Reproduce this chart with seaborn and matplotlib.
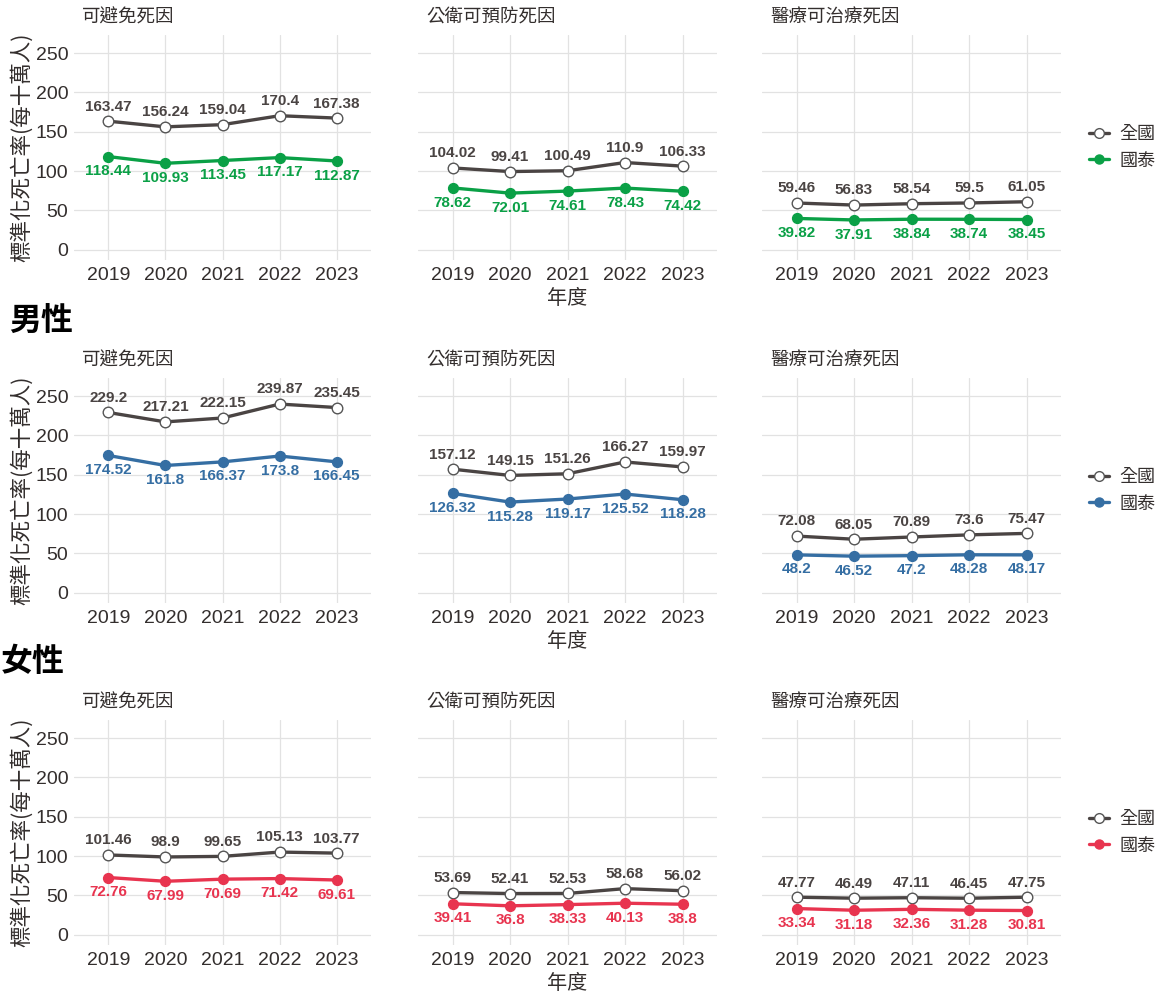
import matplotlib
matplotlib.use("Agg")
import matplotlib.pyplot as plt
import seaborn as sns
import pandas as pd
from matplotlib.lines import Line2D

# ---------------- data ----------------
years = ["2019", "2020", "2021", "2022", "2023"]
causes = ["可避免死因", "公衛可預防死因", "醫療可治療死因"]
row_titles = ["", "男性", "女性"]
series_names = ["全國", "國泰"]

# 全體
all_nat_avoid = [163.47, 156.24, 159.04, 170.4, 167.38]
all_ct_avoid = [118.44, 109.93, 113.45, 117.17, 112.87]
all_nat_prev = [104.02, 99.41, 100.49, 110.9, 106.33]
all_ct_prev = [78.62, 72.01, 74.61, 78.43, 74.42]
all_nat_treat = [59.46, 56.83, 58.54, 59.5, 61.05]
all_ct_treat = [39.82, 37.91, 38.84, 38.74, 38.45]
# 男性
male_nat_avoid = [229.2, 217.21, 222.15, 239.87, 235.45]
male_ct_avoid = [174.52, 161.8, 166.37, 173.8, 166.45]
male_nat_prev = [157.12, 149.15, 151.26, 166.27, 159.97]
male_ct_prev = [126.32, 115.28, 119.17, 125.52, 118.28]
male_nat_treat = [72.08, 68.05, 70.89, 73.6, 75.47]
male_ct_treat = [48.2, 46.52, 47.2, 48.28, 48.17]
# 女性
fem_nat_avoid = [101.46, 98.9, 99.65, 105.13, 103.77]
fem_ct_avoid = [72.76, 67.99, 70.69, 71.42, 69.61]
fem_nat_prev = [53.69, 52.41, 52.53, 58.68, 56.02]
fem_ct_prev = [39.41, 36.8, 38.33, 40.13, 38.8]
fem_nat_treat = [47.77, 46.49, 47.11, 46.45, 47.75]
fem_ct_treat = [33.34, 31.18, 32.36, 31.28, 30.81]

y_ticks = [0, 50, 100, 150, 200, 250]

rows = [
    [(all_nat_avoid, all_ct_avoid), (all_nat_prev, all_ct_prev), (all_nat_treat, all_ct_treat)],
    [(male_nat_avoid, male_ct_avoid), (male_nat_prev, male_ct_prev), (male_nat_treat, male_ct_treat)],
    [(fem_nat_avoid, fem_ct_avoid), (fem_nat_prev, fem_ct_prev), (fem_nat_treat, fem_ct_treat)],
]

# ---------------- style ----------------
sns.set_theme(style="white")
plt.rcParams['font.family'] = ['Liberation Sans', 'Noto Sans CJK TC', 'DejaVu Sans']
CJK = ['Noto Sans CJK TC', 'DejaVu Sans']

NAT_COLOR = "#4a4443"
ROW_COLORS = ["#0aa046", "#356ea3", "#e8344f"]
TXT = "#332e2d"
GRID = "#e2e2e2"

W, H = 1167, 992
fig = plt.figure(figsize=(W / 100, H / 100), dpi=100)


def rect(x0, x1, y0, y1):
    return [x0 / W, 1 - y1 / H, (x1 - x0) / W, (y1 - y0) / H]


row_y = [(35, 260), (378, 603), (720, 945)]
col_x = [(74, 371), (418, 717), (762, 1061)]

for r, (ry0, ry1) in enumerate(row_y):
    ct_color = ROW_COLORS[r]
    for c, (cx0, cx1) in enumerate(col_x):
        ax = fig.add_axes(rect(cx0, cx1, ry0, ry1))
        nat, ct = rows[r][c]
        df = pd.DataFrame({
            "idx": list(range(len(years))) * 2,
            "value": nat + ct,
            "series": [series_names[0]] * len(years) + [series_names[1]] * len(years),
        })
        sns.lineplot(data=df[df.series == "全國"], x="idx", y="value", ax=ax,
                     color=NAT_COLOR, lw=2.4, zorder=3, legend=False)
        sns.lineplot(data=df[df.series == "國泰"], x="idx", y="value", ax=ax,
                     color=ct_color, lw=2.4, zorder=3, legend=False)
        sns.scatterplot(data=df[df.series == "全國"], x="idx", y="value", ax=ax,
                        color="white", edgecolor="#555555", linewidth=1.0, s=58,
                        zorder=4, legend=False)
        sns.scatterplot(data=df[df.series == "國泰"], x="idx", y="value", ax=ax,
                        color=ct_color, edgecolor=ct_color, linewidth=1.0, s=50,
                        zorder=4, legend=False)
        for i, v in enumerate(nat):
            ax.annotate(f"{v:g}", (i, v), xytext=(0, 10.5), textcoords="offset points",
                        ha="center", va="center", fontsize=11, fontweight="bold",
                        color=NAT_COLOR, zorder=5)
        for i, v in enumerate(ct):
            ax.annotate(f"{v:g}", (i, v), xytext=(0, -10.5), textcoords="offset points",
                        ha="center", va="center", fontsize=11, fontweight="bold",
                        color=ct_color, zorder=5)

        ax.set_xlim(-0.6, 4.6)
        ax.set_ylim(-13, 273)
        ax.set_xticks(range(len(years)))
        ax.set_xticklabels(years)
        ax.set_yticks(y_ticks)
        if c == 0:
            ax.set_yticklabels([str(t) for t in y_ticks])
        else:
            ax.set_yticklabels([])
        ax.tick_params(axis="both", length=0, labelsize=14, colors=TXT)
        ax.tick_params(axis="x", pad=5)
        ax.tick_params(axis="y", pad=4)
        ax.grid(True, color=GRID, lw=0.9, zorder=0)
        ax.set_axisbelow(True)
        for s in ax.spines.values():
            s.set_visible(False)
        ax.set_xlabel("")
        ax.set_ylabel("")
        ax.set_facecolor("white")

        # panel title
        ax.annotate(causes[c], (0, 1), xycoords="axes fraction", xytext=(6, 12.5),
                    textcoords="offset points", ha="left", va="center",
                    fontsize=13.3, color=TXT, family=CJK)

        if c == 1:
            ax.annotate("年度", (0.5, 0), xycoords="axes fraction", xytext=(0, -27.5),
                        textcoords="offset points", ha="center", va="center",
                        fontsize=14.5, color=TXT, family=CJK)
        if c == 2:
            handles = [
                Line2D([], [], color=NAT_COLOR, lw=2.4, marker="o", markersize=7,
                       markerfacecolor="white", markeredgecolor="#555555"),
                Line2D([], [], color=ct_color, lw=2.4, marker="o", markersize=6.5,
                       markerfacecolor=ct_color, markeredgecolor=ct_color),
            ]
            leg = ax.legend(handles, series_names, loc="center left",
                            bbox_to_anchor=(1 + 28 / 299, 0.5), frameon=False,
                            borderpad=0, borderaxespad=0, handlelength=1.1,
                            handletextpad=0.6, labelspacing=0.45,
                            prop={"family": CJK, "size": 13})
            for t in leg.get_texts():
                t.set_color(TXT)

    # y label
    fig.text(22 / W, 1 - ((ry0 + ry1) / 2) / H, "標準化死亡率(每十萬人)", rotation=90,
             ha="center", va="center", fontsize=15.5, color=TXT, family=CJK)

# row titles
fig.text(9 / W, 1 - 322 / H, row_titles[1], ha="left", va="center", fontsize=23,
         fontweight="bold", color="black", family=CJK)
fig.text(1 / W, 1 - 662 / H, row_titles[2], ha="left", va="center", fontsize=23,
         fontweight="bold", color="black", family=CJK)

fig.savefig("out.png", dpi=100, facecolor="white")
